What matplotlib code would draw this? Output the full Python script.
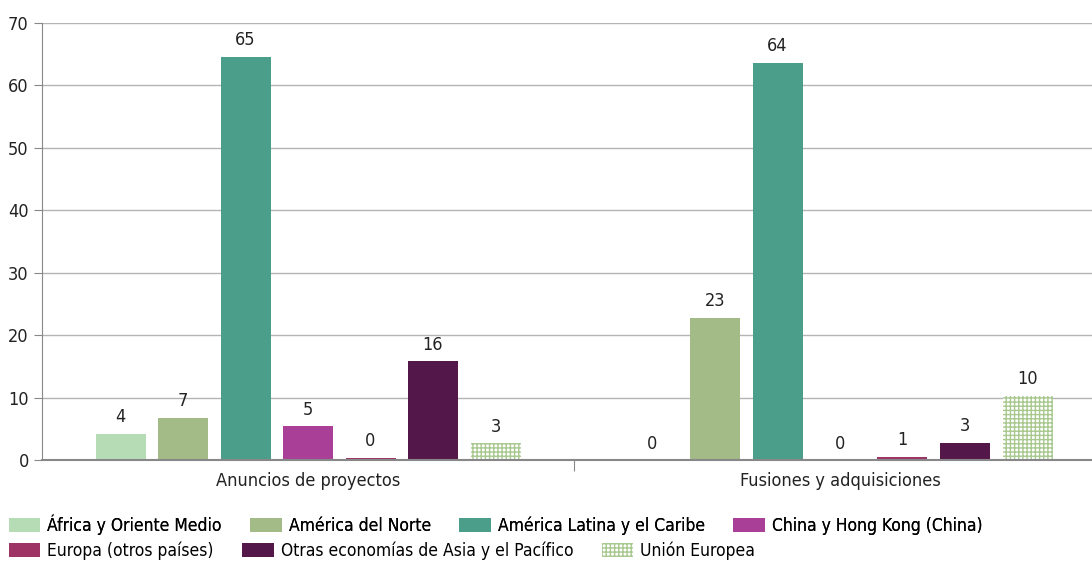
import matplotlib
matplotlib.use("Agg")
import matplotlib.pyplot as plt
import numpy as np

plt.rcParams['font.family'] = ['DejaVu Sans']
plt.rcParams['font.stretch'] = 'condensed'
plt.rcParams['hatch.linewidth'] = 1.0

groups = ["Anuncios de proyectos", "Fusiones y adquisiciones"]
series = ["África y Oriente Medio", "América del Norte", "América Latina y el Caribe",
          "China y Hong Kong (China)", "Europa (otros países)",
          "Otras economías de Asia y el Pacífico", "Unión Europea"]
heights = [
    [4.2, 6.8, 64.6, 5.4, 0.4, 15.8, 2.7],
    [0.0, 22.8, 63.6, 0.0, 0.5, 2.8, 10.3],
]
labels = [
    [4, 7, 65, 5, 0, 16, 3],
    [0, 23, 64, 0, 1, 3, 10],
]
colors = ["#b5dcb5", "#a3bb86", "#4a9e8a", "#a93f96", "#9e3466", "#54174a", "white"]

fig = plt.figure(figsize=(10.92, 5.61), dpi=100)
W, H = 1092, 561
ax = fig.add_axes([42 / W, 1 - 460 / H, (1106 - 42) / W, (460 - 23) / H])

slot = 62.5 / 532
bw = 50 / 532
x = np.arange(len(groups))
handles = []
for i, name in enumerate(series):
    xs = x + (i - 3) * slot
    hs = [heights[g][i] for g in range(len(groups))]
    if name == "Unión Europea":
        b = ax.bar(xs, hs, bw, color="white", edgecolor="#a8c88e", hatch="++++",
                   linewidth=0, label=name)
    else:
        b = ax.bar(xs, hs, bw, color=colors[i], label=name)
    handles.append(b)
    for g in range(len(groups)):
        ax.text(xs[g], hs[g] + 1.2, str(labels[g][i]), ha="center", va="bottom",
                fontsize=13, color="#222222")

ax.set_xlim(-0.5, 1.5)
ax.set_ylim(0, 70)
ax.set_yticks(range(0, 71, 10))
ax.tick_params(axis="y", labelsize=13, length=6, color="#888888", labelcolor="#222222")
ax.set_xticks([0.5])
ax.set_xticklabels([""])
ax.tick_params(axis="x", length=8, color="#888888")
for g, name in enumerate(groups):
    ax.text(x[g], -1.9, name, ha="center", va="top", fontsize=13, color="#222222")
ax.grid(axis="y", color="#b4b4b4", linewidth=1)
ax.set_axisbelow(True)
for s in ["top", "right"]:
    ax.spines[s].set_visible(False)
ax.spines["left"].set_color("#888888")
ax.spines["bottom"].set_color("#888888")
ax.spines["bottom"].set_linewidth(1.5)

fs = 12.5
leg_kw = dict(frameon=False, fontsize=fs, handlelength=1.8, handleheight=0.86,
              handletextpad=0.4, columnspacing=1.65, borderaxespad=0, borderpad=0)
leg1 = fig.legend(handles[:4], series[:4], loc="center left",
                  bbox_to_anchor=(9 / W, 1 - 524.5 / H), ncol=4, **leg_kw)
fig.add_artist(leg1)
fig.legend(handles[4:], series[4:], loc="center left",
           bbox_to_anchor=(9 / W, 1 - 551 / H), ncol=3, **leg_kw)

fig.savefig("out.png", dpi=100)
